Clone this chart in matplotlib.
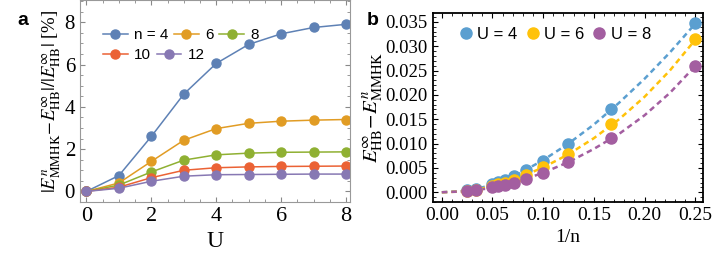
import numpy as np
import matplotlib
matplotlib.use('Agg')
from matplotlib import pyplot as plt
from matplotlib.ticker import MultipleLocator, FormatStrFormatter

plt.rcParams['mathtext.fontset'] = 'stix'
plt.rcParams['font.family'] = 'serif'
plt.rcParams['font.serif'] = ['Liberation Serif']

# Panel a data: relative error vs U for several n
U = [0, 1, 2, 3, 4, 5, 6, 7, 8]
n_labels = ['n = 4', '6', '8', '10', '12']
err_n4 = [0, 0.75, 2.6, 4.6, 6.05, 6.95, 7.45, 7.75, 7.9]
err_n6 = [0, 0.4, 1.42, 2.42, 2.97, 3.22, 3.32, 3.37, 3.4]
err_n8 = [0, 0.3, 0.92, 1.48, 1.73, 1.81, 1.85, 1.86, 1.87]
err_n10 = [0, 0.2, 0.65, 1.0, 1.12, 1.16, 1.18, 1.19, 1.2]
err_n12 = [0, 0.15, 0.48, 0.72, 0.79, 0.8, 0.81, 0.82, 0.82]
colors_a = ['#5E81B5', '#E19C24', '#8FB032', '#EB6235', '#8778B3']

# Panel b data: energy difference vs 1/n
inv_n = [0.25, 1/6, 0.125, 0.1, 1/12, 1/14, 1/16, 1/18, 0.05, 1/30, 0.025]
diff_U4 = [0.0348, 0.0171, 0.0100, 0.0065, 0.0045, 0.0033, 0.0026, 0.0021, 0.0017, 0.0007, 0.0004]
diff_U6 = [0.0314, 0.0140, 0.0078, 0.0051, 0.0036, 0.0026, 0.0020, 0.0016, 0.0013, 0.0005, 0.0003]
diff_U8 = [0.0260, 0.0112, 0.0062, 0.0039, 0.0028, 0.0020, 0.0015, 0.0012, 0.0010, 0.0004, 0.0002]
U_labels = ['U = 4', 'U = 6', 'U = 8']
colors_b = ['#5B9FD0', '#FFC20A', '#A35EA0']

# dashed fit curves
fit_x = [0, 0.025, 0.05, 0.075, 0.1, 0.125, 0.15, 0.175, 0.2, 0.225, 0.25]
fit_U4 = [0, 0.0003, 0.0015, 0.0037, 0.0066, 0.0100, 0.0139, 0.0184, 0.0233, 0.0287, 0.0346]
fit_U6 = [0, 0.0002, 0.0012, 0.0029, 0.0051, 0.0078, 0.0111, 0.0150, 0.0196, 0.0250, 0.0313]
fit_U8 = [0, 0.0002, 0.0009, 0.0022, 0.0040, 0.0062, 0.0089, 0.0120, 0.0158, 0.0204, 0.0259]

fig = plt.figure(figsize=(7.14, 2.62), dpi=100)
leg_font = {'family': 'Liberation Sans', 'size': 11}

# ---------- panel a ----------
ax1 = fig.add_axes([0.112, 0.229, 0.378, 0.771])
lines = []
for y, lab, c in zip([err_n4, err_n6, err_n8, err_n10, err_n12], n_labels, colors_a):
    l, = ax1.plot(U, y, '-o', color=c, lw=1.1, ms=6.5, label=lab)
    lines.append(l)
ax1.set_xlim(-0.2, 8.12)
ax1.set_ylim(-0.5, 9.05)
ax1.xaxis.set_major_locator(MultipleLocator(2))
ax1.xaxis.set_minor_locator(MultipleLocator(0.5))
ax1.yaxis.set_major_locator(MultipleLocator(2))
ax1.yaxis.set_minor_locator(MultipleLocator(0.5))
ax1.tick_params(which='both', direction='in', top=True, right=True, color='#888888')
ax1.tick_params(axis='x', labelsize=16)
ax1.tick_params(axis='y', labelsize=15)
for s in ax1.spines.values():
    s.set_color('#999999')
    s.set_linewidth(0.8)
ax1.set_xlabel('U', fontsize=17)
ax1.set_ylabel(r'$|E^n_{\rm MMHK}\!-\!E^\infty_{\rm HB}|/|E^\infty_{\rm HB}|$ [%]', fontsize=13.5, labelpad=1)
# legend in two rows, like the original
leg1 = ax1.legend(lines[:3], n_labels[:3], loc='upper left', ncol=3, frameon=False, prop=leg_font,
                  handlelength=1.6, handletextpad=0.4, columnspacing=0.4,
                  bbox_to_anchor=(0.035, 0.93))
ax1.add_artist(leg1)
ax1.legend(lines[3:], n_labels[3:], loc='upper left', ncol=2, frameon=False, prop=leg_font,
           handlelength=1.6, handletextpad=0.4, columnspacing=0.4,
           bbox_to_anchor=(0.035, 0.83))
fig.text(0.025, 0.905, 'a', fontsize=14, fontweight='bold', family='Liberation Sans')

# ---------- panel b ----------
ax2 = fig.add_axes([0.606, 0.229, 0.379, 0.721])
for yf, c in zip([fit_U4, fit_U6, fit_U8], colors_b):
    ax2.plot(fit_x, yf, '--', color=c, lw=1.8, dashes=(2.2, 1.6))
for y, lab, c in zip([diff_U4, diff_U6, diff_U8], U_labels, colors_b):
    ax2.plot(inv_n, y, 'o', color=c, ms=8, label=lab)
ax2.set_xlim(-0.009, 0.258)
ax2.set_ylim(-0.002, 0.0368)
ax2.xaxis.set_major_locator(MultipleLocator(0.05))
ax2.xaxis.set_minor_locator(MultipleLocator(0.01))
ax2.yaxis.set_major_locator(MultipleLocator(0.005))
ax2.yaxis.set_minor_locator(MultipleLocator(0.001))
ax2.xaxis.set_major_formatter(FormatStrFormatter('%.2f'))
ax2.yaxis.set_major_formatter(FormatStrFormatter('%.3f'))
ax2.tick_params(which='both', direction='in', top=True, right=True)
ax2.tick_params(axis='x', labelsize=14)
ax2.tick_params(axis='y', labelsize=13.5)
for s in ax2.spines.values():
    s.set_linewidth(1.3)
ax2.set_xlabel('1/n', fontsize=14)
ax2.set_ylabel(r'$E^\infty_{\rm HB}\!-\!E^n_{\rm MMHK}$', fontsize=15, labelpad=0)
ax2.legend(loc='upper left', ncol=3, frameon=False, prop={'family': 'Liberation Sans', 'size': 12},
           handlelength=0.8, handletextpad=0.3, columnspacing=0.5, borderaxespad=0.2,
           bbox_to_anchor=(0.06, 0.98))
fig.text(0.513, 0.905, 'b', fontsize=14, fontweight='bold', family='Liberation Sans')

# make sure tick labels use the serif face
for ax in (ax1, ax2):
    for lab in ax.get_xticklabels() + ax.get_yticklabels():
        lab.set_family('Liberation Serif')

fig.savefig('out.png', dpi=100)
